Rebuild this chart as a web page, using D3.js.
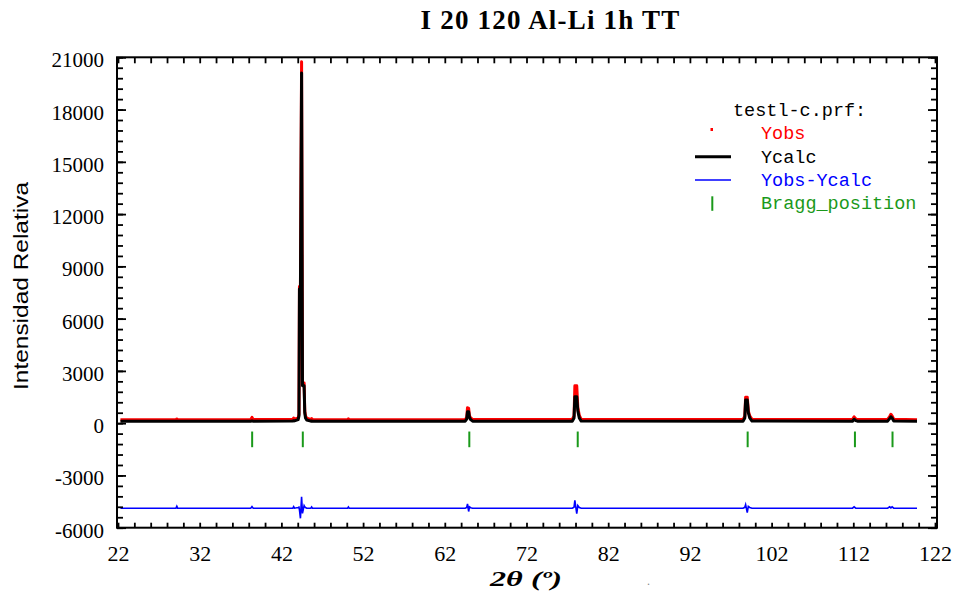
<!DOCTYPE html>
<html><head><meta charset="utf-8">
<script src="https://cdn.jsdelivr.net/npm/d3@7"></script>
<style>body{margin:0;background:#fff}</style>
</head><body>
<svg id="c" width="955" height="596"></svg>
<script>
// ---- data ----
const twoTheta = [22.3, 29.1, 29.2, 29.3, 38.25, 38.4, 38.55, 43.4, 43.5, 43.6,
  44.05, 44.15, 44.21, 44.33, 44.47, 44.58, 44.78, 44.86, 44.95, 45.1,
  45.6, 45.7, 45.8, 50.1, 50.2, 50.3,
  64.5, 64.68, 64.78, 64.92, 65.02, 65.17, 65.4,
  77.6, 77.82, 77.92, 78.15, 78.28, 78.46, 78.7,
  98.5, 98.72, 98.82, 99.02, 99.15, 99.32, 99.6,
  111.9, 112.1, 112.3, 112.5,
  116.2, 116.45, 116.6, 116.75, 116.95, 119.8];
const yObs = [200, 200, 240, 200, 205, 330, 205, 215, 290, 230,
  300, 520, 7850, 7800, 20750, 2300, 2300, 700, 420, 280,
  215, 260, 210, 200, 250, 200,
  210, 320, 890, 850, 420, 300, 210,
  210, 420, 2150, 2150, 900, 450, 215,
  210, 400, 1490, 1490, 700, 420, 215,
  210, 360, 250, 210,
  220, 380, 510, 420, 230, 200];
const yCalc = [110, 110, 110, 110, 112, 130, 112, 118, 140, 130,
  200, 420, 7700, 7650, 20100, 2150, 2150, 600, 300, 180,
  115, 120, 112, 110, 115, 110,
  115, 230, 660, 660, 330, 200, 115,
  115, 300, 1520, 1520, 700, 300, 118,
  115, 300, 1330, 1330, 600, 300, 118,
  115, 225, 150, 115,
  115, 260, 370, 300, 130, 110];
const yDiff = [0, 0, 110, 0, 0, 90, 0, 0, 90, 0,
  40, 60, -100, -580, 660, -300, 150, 80, 40, 0,
  0, 70, 0, 0, 70, 0,
  0, 40, 250, -190, 80, 30, 0,
  0, 60, 450, -320, 150, 40, 0,
  0, 50, 200, -250, 100, 40, 0,
  0, 80, 0, 0,
  0, 80, 20, 80, 0, 0];
const diffShift = -4880;
const braggPos = [38.42, 44.62, 65.0, 78.27, 99.07, 112.2, 116.8];
const braggTop = -480, braggBottom = -1380;
const xTickLabels = [22, 32, 42, 52, 62, 72, 82, 92, 102, 112, 122];
const yTickLabels = [21000, 18000, 15000, 12000, 9000, 6000, 3000, 0, -3000, -6000];
const legendItems = [
  {name: "Yobs", color: "#ff0000", kind: "dot"},
  {name: "Ycalc", color: "#000000", kind: "thick"},
  {name: "Yobs-Ycalc", color: "#0000ff", kind: "thin"},
  {name: "Bragg_position", color: "#1a991a", kind: "tick"}
];

// ---- drawing ----
const svg = d3.select("#c");
const L = 117, R = 937, T = 57.3, B = 527.7;
const x = d3.scaleLinear().domain([22, 122]).range([118, 935]);
const y = d3.scaleLinear().domain([-6000, 21000]).range([B, T]);

svg.append("rect").attr("width", 955).attr("height", 596).attr("fill", "#fff");

const pts = twoTheta.map((t, i) => ({t, o: yObs[i], c: yCalc[i], d: yDiff[i]}));

// Yobs (red) under Ycalc
svg.append("path").datum(pts)
  .attr("d", d3.line().x(p => x(p.t)).y(p => y(p.o)))
  .attr("fill", "none").attr("stroke", "#ff0000").attr("stroke-width", 3).attr("stroke-linejoin", "round");
svg.append("path").datum(pts)
  .attr("d", d3.line().x(p => x(p.t)).y(p => y(p.c)))
  .attr("fill", "none").attr("stroke", "#000").attr("stroke-width", 3).attr("stroke-linejoin", "round");
svg.append("path").datum(pts)
  .attr("d", d3.line().x(p => x(p.t)).y(p => y(p.d + diffShift)))
  .attr("fill", "none").attr("stroke", "#0000ff").attr("stroke-width", 1.6);

// Bragg ticks
svg.append("g").selectAll("line").data(braggPos).join("line")
  .attr("x1", d => x(d)).attr("x2", d => x(d))
  .attr("y1", y(braggTop)).attr("y2", y(braggBottom))
  .attr("stroke", "#1a991a").attr("stroke-width", 2);

// Axes ticks
function styleTicks(g) {
  g.select(".domain").remove();
  g.selectAll(".tick line").attr("stroke", "#000").attr("stroke-width", 1.8);
}
const yMinor = d3.range(-6000, 21001, 600);
const xMinor = d3.range(22, 123, 2);
svg.append("g").attr("transform", `translate(${L},0)`)
  .call(d3.axisLeft(y).tickValues(yMinor).tickSize(-6).tickFormat("")).call(styleTicks);
svg.append("g").attr("transform", `translate(${L},0)`)
  .call(d3.axisLeft(y).tickValues(yTickLabels).tickSize(-9).tickFormat("")).call(styleTicks);
svg.append("g").attr("transform", `translate(${R},0)`)
  .call(d3.axisRight(y).tickValues(yMinor).tickSize(-6).tickFormat("")).call(styleTicks);
svg.append("g").attr("transform", `translate(${R},0)`)
  .call(d3.axisRight(y).tickValues(yTickLabels).tickSize(-9).tickFormat("")).call(styleTicks);
svg.append("g").attr("transform", `translate(0,${B})`)
  .call(d3.axisBottom(x).tickValues(xMinor).tickSize(-5).tickFormat("")).call(styleTicks);
svg.append("g").attr("transform", `translate(0,${T})`)
  .call(d3.axisTop(x).tickValues(xMinor).tickSize(-6).tickFormat("")).call(styleTicks);

// Tick labels (plain hyphen minus as in the original)
const gyl = svg.append("g").attr("transform", `translate(${L},0)`)
  .call(d3.axisLeft(y).tickValues(yTickLabels).tickSize(0).tickPadding(13).tickFormat(d => String(d)));
gyl.select(".domain").remove();
gyl.selectAll("text").attr("font-family", "'Liberation Serif', serif").attr("font-size", 21)
  .attr("fill", "#000").attr("dy", "0.45em");
const gxl = svg.append("g").attr("transform", `translate(0,${B})`)
  .call(d3.axisBottom(x).tickValues(xTickLabels).tickSize(0).tickPadding(18).tickFormat(d => String(d)));
gxl.select(".domain").remove();
gxl.selectAll("text").attr("font-family", "'Liberation Serif', serif").attr("font-size", 22).attr("fill", "#000");

// Frame
svg.append("rect").attr("x", L).attr("y", T).attr("width", R - L).attr("height", B - T)
  .attr("fill", "none").attr("stroke", "#000").attr("stroke-width", 2);

// Title & axis titles
svg.append("text").attr("x", 550.5).attr("y", 29.3).attr("text-anchor", "middle")
  .attr("font-family", "'Liberation Serif', serif").attr("font-weight", "bold").attr("font-size", 27)
  .attr("letter-spacing", 1.2).text("I 20 120 Al-Li 1h TT");
svg.append("text").attr("transform", "translate(28.3,286) rotate(-90)").attr("text-anchor", "middle")
  .attr("font-family", "'Liberation Sans', Arial, sans-serif").attr("font-size", 20)
  .attr("textLength", 208).attr("lengthAdjust", "spacingAndGlyphs").text("Intensidad Relativa");
svg.append("text").attr("x", 490).attr("y", 586).attr("font-family", "'Liberation Serif', serif")
  .attr("font-weight", "bold").attr("font-style", "italic").attr("font-size", 22)
  .attr("textLength", 72).attr("lengthAdjust", "spacingAndGlyphs").text("2θ (º)");
svg.append("text").attr("x", 647).attr("y", 585).attr("font-family", "'Liberation Serif', serif")
  .attr("font-size", 12).attr("fill", "#888").text(".");

// Legend
const mono = "'Liberation Mono', 'Courier New', monospace";
svg.append("text").attr("x", 733).attr("y", 116).attr("font-family", mono).attr("font-size", 18.5)
  .attr("fill", "#000").text("testl-c.prf:");
const rowY = [139, 162.7, 186, 209.3];
const lg = svg.append("g");
legendItems.forEach((it, i) => {
  const by = rowY[i];
  lg.append("text").attr("x", 761).attr("y", by).attr("font-family", mono).attr("font-size", 18.5)
    .attr("fill", it.color).text(it.name);
  const my = by - 6;
  if (it.kind === "dot") {
    lg.append("rect").attr("x", 710.5).attr("y", my - 5).attr("width", 2.5).attr("height", 3).attr("fill", it.color);
  } else if (it.kind === "thick") {
    lg.append("line").attr("x1", 695).attr("x2", 731).attr("y1", my).attr("y2", my)
      .attr("stroke", it.color).attr("stroke-width", 3);
  } else if (it.kind === "thin") {
    lg.append("line").attr("x1", 695).attr("x2", 731).attr("y1", my).attr("y2", my)
      .attr("stroke", it.color).attr("stroke-width", 1.5);
  } else {
    lg.append("line").attr("x1", 712.3).attr("x2", 712.3).attr("y1", by - 13).attr("y2", by + 1.5)
      .attr("stroke", it.color).attr("stroke-width", 2);
  }
});
</script>
</body></html>
